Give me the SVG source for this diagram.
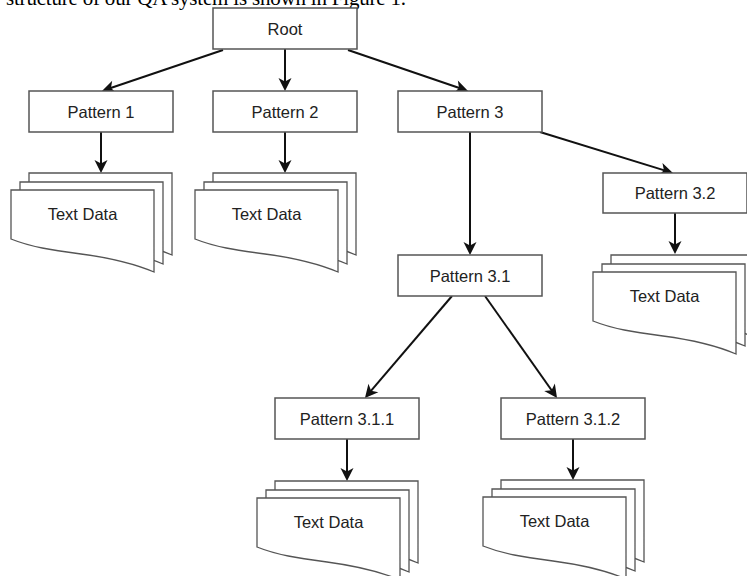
<svg xmlns="http://www.w3.org/2000/svg" xmlns:xlink="http://www.w3.org/1999/xlink" width="747" height="576" viewBox="0 0 747 576">
<style>
.box{fill:#fff;stroke:#555;stroke-width:1.5}
.sheet{fill:#fff;stroke:#555;stroke-width:1.3}
.lbl{font-family:"Liberation Sans",Arial,sans-serif;font-size:16.5px;fill:#222;text-anchor:middle}
.edge{fill:none;stroke:#111;stroke-width:2;marker-end:url(#arr)}
.cap{font-family:"Liberation Serif","Times New Roman",serif;font-size:21px;fill:#000}
</style>
<defs>
<marker id="arr" markerUnits="userSpaceOnUse" markerWidth="18" markerHeight="18" viewBox="-15 -9 18 18" refX="-3" refY="0" orient="auto">
<path d="M0,0 L-13,-6.5 L-9.5,0 L-13,6.5 Z" fill="#111"/>
</marker>
<path id="sheet" class="sheet" d="M0,0 H143 V82 C122,73 100,68 70,64 C40,60 20,57 0,49 Z"/>
</defs>
<rect width="747" height="576" fill="#fff"/>
<text class="cap" x="6" y="5" textLength="400" lengthAdjust="spacing">structure of our QA system is shown in Figure 1.</text>

<g id="connectors">
<path class="edge" d="M223,50 L104.8,90"/>
<path class="edge" d="M285,49 L285,88"/>
<path class="edge" d="M348,50 L465.2,90"/>
<path class="edge" d="M101,132 L101,170"/>
<path class="edge" d="M285,132 L285,170"/>
<path class="edge" d="M470,132 L470,252"/>
<path class="edge" d="M540,132 L670.1,172.1"/>
<path class="edge" d="M675,213 L675,251"/>
<path class="edge" d="M452,296 L366.9,395.7"/>
<path class="edge" d="M485,296 L555.3,395.5"/>
<path class="edge" d="M347,439 L347,478"/>
<path class="edge" d="M573,439 L573,477"/>
</g>

<g id="root"><rect class="box" x="213" y="8" width="144" height="41"/><text class="lbl" x="285" y="34.5">Root</text></g>
<g id="pattern1"><rect class="box" x="29" y="91" width="144" height="41"/><text class="lbl" x="101" y="117.5">Pattern 1</text></g>
<g id="pattern2"><rect class="box" x="213" y="91" width="144" height="41"/><text class="lbl" x="285" y="117.5">Pattern 2</text></g>
<g id="pattern3"><rect class="box" x="398" y="91" width="144" height="41"/><text class="lbl" x="470" y="117.5">Pattern 3</text></g>
<g id="pattern3_2"><rect class="box" x="603" y="173" width="144" height="40"/><text class="lbl" x="675" y="199">Pattern 3.2</text></g>
<g id="pattern3_1"><rect class="box" x="398" y="255" width="144" height="41"/><text class="lbl" x="470" y="281.5">Pattern 3.1</text></g>
<g id="pattern3_1_1"><rect class="box" x="275" y="398" width="144" height="41"/><text class="lbl" x="347" y="424.5">Pattern 3.1.1</text></g>
<g id="pattern3_1_2"><rect class="box" x="501" y="398" width="144" height="41"/><text class="lbl" x="573" y="424.5">Pattern 3.1.2</text></g>

<g id="textdata1" transform="translate(11,190)"><use xlink:href="#sheet" x="18" y="-17"/><use xlink:href="#sheet" x="9" y="-8"/><use xlink:href="#sheet"/><text class="lbl" x="71.5" y="30">Text Data</text></g>
<g id="textdata2" transform="translate(195,190)"><use xlink:href="#sheet" x="18" y="-17"/><use xlink:href="#sheet" x="9" y="-8"/><use xlink:href="#sheet"/><text class="lbl" x="71.5" y="30">Text Data</text></g>
<g id="textdata3" transform="translate(593,272)"><use xlink:href="#sheet" x="18" y="-17"/><use xlink:href="#sheet" x="9" y="-8"/><use xlink:href="#sheet"/><text class="lbl" x="71.5" y="30">Text Data</text></g>
<g id="textdata4" transform="translate(257,498)"><use xlink:href="#sheet" x="18" y="-17"/><use xlink:href="#sheet" x="9" y="-8"/><use xlink:href="#sheet"/><text class="lbl" x="71.5" y="30">Text Data</text></g>
<g id="textdata5" transform="translate(483,497)"><use xlink:href="#sheet" x="18" y="-17"/><use xlink:href="#sheet" x="9" y="-8"/><use xlink:href="#sheet"/><text class="lbl" x="71.5" y="30">Text Data</text></g>
</svg>
